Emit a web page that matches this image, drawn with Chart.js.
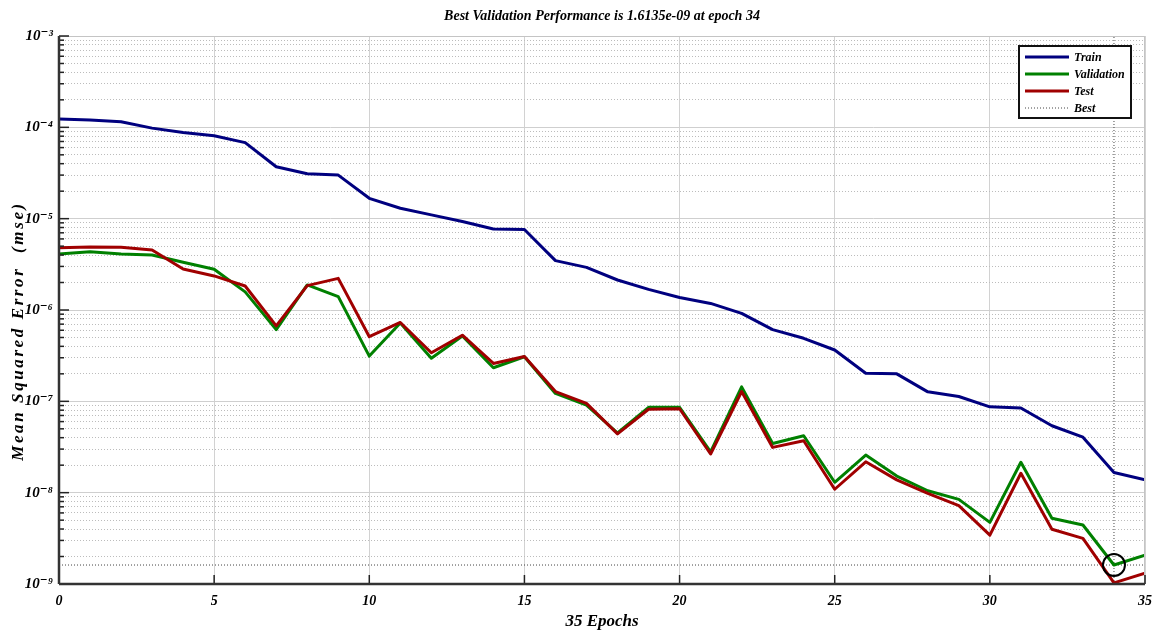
<!DOCTYPE html>
<html lang="en">
<head>
    <meta charset="UTF-8">
    <title>Best Validation Performance</title>
    <style>
        body { margin: 0; background: #fff; }
    </style>
</head>
<body>
    <canvas id="myChart" width="1161" height="635"></canvas>
    <script src="https://cdn.jsdelivr.net/npm/chart.js"></script>
    <script>
        // values (mse per epoch)
        let v_epochs = [0, 1, 2, 3, 4, 5, 6, 7, 8, 9, 10, 11, 12, 13, 14, 15, 16, 17,
                        18, 19, 20, 21, 22, 23, 24, 25, 26, 27, 28, 29, 30, 31, 32, 33, 34, 35];
        let v_train = [1.23e-4, 1.20e-4, 1.15e-4, 9.8e-5, 8.8e-5, 8.1e-5, 6.8e-5, 3.7e-5, 3.1e-5, 3.0e-5,
                       1.67e-5, 1.3e-5, 1.1e-5, 9.3e-6, 7.7e-6, 7.6e-6, 3.47e-6, 2.93e-6, 2.13e-6, 1.68e-6,
                       1.37e-6, 1.18e-6, 9.2e-7, 6.1e-7, 4.9e-7, 3.65e-7, 2.03e-7, 2.0e-7, 1.27e-7, 1.13e-7,
                       8.7e-8, 8.45e-8, 5.4e-8, 4.05e-8, 1.66e-8, 1.38e-8];
        let v_validation = [4.1e-6, 4.35e-6, 4.1e-6, 4.0e-6, 3.33e-6, 2.79e-6, 1.58e-6, 6.1e-7, 1.88e-6, 1.4e-6,
                            3.13e-7, 7.2e-7, 2.96e-7, 5.2e-7, 2.33e-7, 3.08e-7, 1.22e-7, 9.1e-8, 4.5e-8, 8.6e-8,
                            8.6e-8, 2.8e-8, 1.44e-7, 3.46e-8, 4.2e-8, 1.3e-8, 2.58e-8, 1.52e-8, 1.05e-8, 8.45e-9,
                            4.73e-9, 2.15e-8, 5.25e-9, 4.43e-9, 1.6135e-9, 2.07e-9];
        let v_test = [4.8e-6, 4.9e-6, 4.85e-6, 4.54e-6, 2.81e-6, 2.36e-6, 1.83e-6, 6.7e-7, 1.85e-6, 2.22e-6,
                      5.1e-7, 7.3e-7, 3.4e-7, 5.3e-7, 2.6e-7, 3.1e-7, 1.28e-7, 9.5e-8, 4.4e-8, 8.2e-8,
                      8.3e-8, 2.65e-8, 1.28e-7, 3.13e-8, 3.7e-8, 1.09e-8, 2.18e-8, 1.38e-8, 9.8e-9, 7.2e-9,
                      3.43e-9, 1.63e-8, 3.97e-9, 3.16e-9, 1.03e-9, 1.31e-9];

        let v_bestEpoch = 34;
        let v_bestPerf = 1.6135e-9;
        let v_title = 'Best Validation Performance is 1.6135e-09 at epoch 34';
        let v_xTitle = '35 Epochs';
        let v_yTitle = 'Mean Squared Error  (mse)';
        let v_legend = ['Train', 'Validation', 'Test', 'Best'];

        let v_xTicks = [0, 5, 10, 15, 20, 25, 30, 35];
        let v_yDecades = [-9, -8, -7, -6, -5, -4, -3];
        let v_yMinor = [2, 3, 4, 5, 6, 7, 8, 9];

        const v_font = '"Liberation Serif", "DejaVu Serif", serif';
        const v_sup = { '-': '\u207B', '0': '\u2070', '1': '\u00B9', '2': '\u00B2', '3': '\u00B3',
                        '4': '\u2074', '5': '\u2075', '6': '\u2076', '7': '\u2077', '8': '\u2078', '9': '\u2079' };

        let v_yGrid = [];
        for (let i = 0; i < v_yDecades.length; i++) {
            let d = Math.pow(10, v_yDecades[i]);
            v_yGrid.push(d);
            if (i < v_yDecades.length - 1) {
                for (let k = 0; k < v_yMinor.length; k++) v_yGrid.push(v_yMinor[k] * d);
            }
        }

        function f_points(p_values) {
            return p_values.map((v, i) => ({ x: v_epochs[i], y: v }));
        }

        function f_isDecade(p_value) {
            let e = Math.log10(p_value);
            return Math.abs(e - Math.round(e)) < 1e-6;
        }

        function f_line(c, x1, y1, x2, y2) {
            c.beginPath();
            c.moveTo(x1, y1);
            c.lineTo(x2, y2);
            c.stroke();
        }

        // frame, inward ticks, titles and boxed legend like the matlab figure
        const p_frame = {
            id: 'p_frame',
            afterDraw(chart) {
                const c = chart.ctx;
                const a = chart.chartArea;
                const sx = chart.scales.x;
                const sy = chart.scales.y;
                c.save();

                c.strokeStyle = '#c4c4c4';
                c.lineWidth = 1;
                c.strokeRect(a.left + 0.5, a.top + 0.5, a.right - a.left - 1, a.bottom - a.top - 1);

                c.strokeStyle = '#222';
                c.lineWidth = 1.5;
                v_yGrid.forEach(v => {
                    let py = sy.getPixelForValue(v);
                    f_line(c, a.left, py, a.left + (f_isDecade(v) ? 10 : 5), py);
                });
                v_xTicks.forEach(v => {
                    let px = sx.getPixelForValue(v);
                    f_line(c, px, a.bottom, px, a.bottom - 9);
                });

                c.strokeStyle = '#333';
                c.lineWidth = 2.5;
                f_line(c, a.left, a.top, a.left, a.bottom);
                f_line(c, a.left, a.bottom, a.right, a.bottom);

                c.fillStyle = '#000';
                c.font = 'italic bold 14px ' + v_font;
                c.textAlign = 'center';
                c.textBaseline = 'middle';
                c.fillText(v_title, (a.left + a.right) / 2, 16);

                // y title, spaced out like the stretched original
                c.save();
                c.translate(19, (a.top + a.bottom) / 2 + 21);
                c.rotate(-Math.PI / 2);
                c.font = 'italic bold 17px ' + v_font;
                if ('letterSpacing' in c) c.letterSpacing = '2.6px';
                c.fillText(v_yTitle, 0, 0);
                c.restore();

                // legend box
                let bx = a.right - 126, by = a.top + 10, bw = 112, bh = 72;
                c.fillStyle = '#fff';
                c.fillRect(bx, by, bw, bh);
                c.strokeStyle = '#111';
                c.lineWidth = 2;
                c.strokeRect(bx, by, bw, bh);
                c.font = 'italic bold 12px ' + v_font;
                c.textAlign = 'left';
                for (let i = 0; i < v_legend.length; i++) {
                    let ds = chart.data.datasets[i];
                    let ly = by + 11 + i * 17;
                    c.strokeStyle = ds.borderColor;
                    c.lineWidth = ds.borderWidth;
                    c.setLineDash(ds.borderDash || []);
                    f_line(c, bx + 6, ly, bx + 50, ly);
                    c.setLineDash([]);
                    c.fillStyle = '#000';
                    c.fillText(v_legend[i], bx + 55, ly + 1);
                }
                c.restore();
            }
        };

        const ctx = document.getElementById('myChart');
        let myChart = new Chart(ctx, {
            type: 'line',
            data: {
                datasets: [{
                    label: v_legend[0],
                    data: f_points(v_train),
                    borderColor: '#00007f',
                    borderWidth: 3,
                    order: 0
                }, {
                    label: v_legend[1],
                    data: f_points(v_validation),
                    borderColor: '#008000',
                    borderWidth: 3,
                    order: 2
                }, {
                    label: v_legend[2],
                    data: f_points(v_test),
                    borderColor: '#a00000',
                    borderWidth: 3,
                    order: 1
                }, {
                    label: v_legend[3],
                    data: [{ x: v_bestEpoch, y: Math.pow(10, v_yDecades[0]) },
                           { x: v_bestEpoch, y: Math.pow(10, v_yDecades[v_yDecades.length - 1]) }],
                    borderColor: '#444',
                    borderWidth: 1,
                    borderDash: [1, 2],
                    order: 3
                }, {
                    label: 'best level',
                    data: [{ x: v_xTicks[0], y: v_bestPerf }, { x: v_xTicks[v_xTicks.length - 1], y: v_bestPerf }],
                    borderColor: '#444',
                    borderWidth: 1,
                    borderDash: [1, 2],
                    order: 3
                }, {
                    label: 'best point',
                    data: [{ x: v_bestEpoch, y: v_bestPerf }],
                    showLine: false,
                    pointRadius: 11,
                    pointBorderWidth: 2,
                    pointBorderColor: '#000',
                    pointBackgroundColor: 'rgba(0,0,0,0)',
                    order: -1
                }]
            },
            options: {
                responsive: false,
                animation: false,
                elements: {
                    point: { radius: 0 },
                    line: { tension: 0, borderJoinStyle: 'round' }
                },
                layout: { autoPadding: false, padding: { top: 36, right: 0, left: 0, bottom: 0 } },
                plugins: {
                    legend: { display: false },
                    tooltip: { enabled: false }
                },
                scales: {
                    x: {
                        type: 'linear',
                        min: v_xTicks[0],
                        max: v_xTicks[v_xTicks.length - 1],
                        afterBuildTicks: (s) => { s.ticks = v_xTicks.map(v => ({ value: v })); },
                        afterFit: (s) => { s.height = 51; },
                        grid: { color: '#d2d2d2', lineWidth: 1, drawTicks: false },
                        border: { display: false },
                        ticks: {
                            padding: 9,
                            color: '#000',
                            autoSkip: false,
                            maxRotation: 0,
                            font: { family: v_font, size: 14, weight: 'bold', style: 'italic' }
                        },
                        title: {
                            display: true,
                            text: v_xTitle,
                            color: '#000',
                            padding: { top: 0, bottom: 3 },
                            font: { family: v_font, size: 17, weight: 'bold', style: 'italic' }
                        }
                    },
                    y: {
                        type: 'logarithmic',
                        min: Math.pow(10, v_yDecades[0]),
                        max: Math.pow(10, v_yDecades[v_yDecades.length - 1]),
                        afterBuildTicks: (s) => { s.ticks = v_yGrid.map(v => ({ value: v, major: f_isDecade(v) })); },
                        afterFit: (s) => { s.width = 59; },
                        grid: {
                            drawTicks: false,
                            color: (c) => (c.tick && f_isDecade(c.tick.value)) ? '#cfcfcf' : '#bcbcbc',
                            lineWidth: 1
                        },
                        border: {
                            display: false,
                            dash: (c) => (c.tick && !f_isDecade(c.tick.value)) ? [1, 2] : []
                        },
                        ticks: {
                            padding: 6,
                            color: '#000',
                            autoSkip: false,
                            font: { family: v_font, size: 15, weight: 'bold', style: 'italic' },
                            callback: (v) => {
                                if (!f_isDecade(v)) return '';
                                let e = String(Math.round(Math.log10(v)));
                                return '10' + e.split('').map(ch => v_sup[ch]).join('');
                            }
                        }
                    }
                }
            },
            plugins: [p_frame]
        });
    </script>
</body>
</html>
